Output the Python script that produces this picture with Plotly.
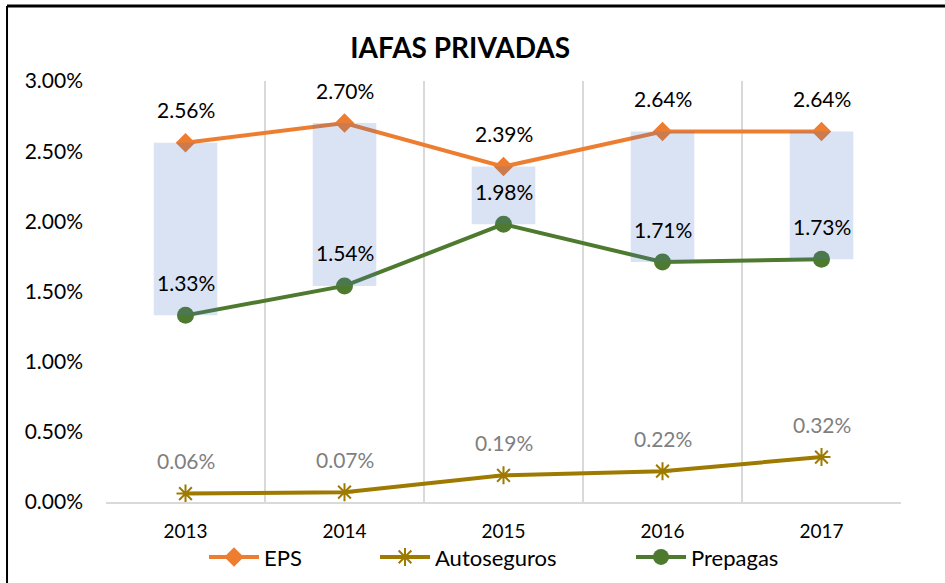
import plotly.graph_objects as go

years = ["2013", "2014", "2015", "2016", "2017"]
eps = [2.56, 2.70, 2.39, 2.64, 2.64]
autoseguros = [0.06, 0.07, 0.19, 0.22, 0.32]
prepagas = [1.33, 1.54, 1.98, 1.71, 1.73]
y_ticks = [0, 0.5, 1.0, 1.5, 2.0, 2.5, 3.0]
y_tick_labels = ["0.00%", "0.50%", "1.00%", "1.50%", "2.00%", "2.50%", "3.00%"]

FONT = "Lato"
C_EPS = "#ED7D31"
C_AUTO = "#9E7A00"
C_PRE = "#4E7A30"

fig = go.Figure()

fig.add_trace(go.Scatter(
    x=years, y=eps, name="EPS", mode="lines+markers",
    line=dict(color=C_EPS, width=4),
    marker=dict(symbol="diamond", size=15, color=C_EPS),
    legend="legend",
))
fig.add_trace(go.Scatter(
    x=years, y=autoseguros, name="Autoseguros", mode="lines+markers",
    line=dict(color=C_AUTO, width=4),
    marker=dict(symbol="asterisk-open", size=15, line=dict(color=C_AUTO, width=2)),
    legend="legend2",
))
fig.add_trace(go.Scatter(
    x=years, y=prepagas, name="Prepagas", mode="lines+markers",
    line=dict(color=C_PRE, width=4),
    marker=dict(symbol="circle", size=17, color=C_PRE),
    legend="legend3",
))

# up-down bars (drawn on top, semi-transparent)
fig.add_trace(go.Bar(
    x=years, y=[e - p for e, p in zip(eps, prepagas)], base=prepagas,
    marker=dict(color="rgba(68,114,196,0.2)", line=dict(width=0)),
    width=0.4, showlegend=False, hoverinfo="skip",
    xaxis="x2", yaxis="y",
))

annotations = []
for series, color in ((eps, "#000000"), (prepagas, "#000000"), (autoseguros, "#7F7F7F")):
    for i, v in enumerate(series):
        annotations.append(dict(
            x=i, y=v, xref="x", yref="y", text=f"{v:.2f}%", showarrow=False,
            yshift=33, font=dict(family=FONT, size=21, color=color),
        ))


def px_x(px):
    return (px - 106) / 795.0


legend_common = dict(
    orientation="h", yanchor="middle", y=-0.131, xanchor="left",
    font=dict(family=FONT, size=22, color="#000000"),
    bgcolor="rgba(0,0,0,0)", itemwidth=50,
)

fig.update_layout(
    width=945, height=583,
    paper_bgcolor="white", plot_bgcolor="white",
    margin=dict(l=106, r=44, t=81, b=81, autoexpand=False),
    title=dict(text="<b>IAFAS PRIVADAS</b>", x=0.487, xanchor="center", y=0.917, yanchor="middle",
               font=dict(family=FONT, size=28, color="#000000")),
    xaxis=dict(
        type="category", categoryorder="array", categoryarray=years,
        range=[-0.5, 4.5], tickson="boundaries", ticks="",
        showgrid=True, gridcolor="#D9D9D9", gridwidth=1.5,
        showline=True, linecolor="#D9D9D9", linewidth=1.5,
        tickfont=dict(family=FONT, size=19, color="#000000"),
        ticklabelstandoff=11,
    ),
    xaxis2=dict(
        type="category", categoryorder="array", categoryarray=years,
        range=[-0.5, 4.5], overlaying="x", visible=False,
    ),
    yaxis=dict(
        range=[0, 3.0], tickvals=y_ticks, ticktext=y_tick_labels,
        showgrid=False, zeroline=False, showline=False, ticks="",
        tickfont=dict(family=FONT, size=21, color="#000000"),
        ticklabelstandoff=22,
    ),
    legend=dict(legend_common, x=px_x(204)),
    legend2=dict(legend_common, x=px_x(375)),
    legend3=dict(legend_common, x=px_x(631)),
    annotations=annotations,
    shapes=[
        dict(type="line", xref="paper", yref="paper", x0=-0.1245, x1=1.2, y0=1.178, y1=1.178,
             line=dict(color="#000000", width=3)),
        dict(type="line", xref="paper", yref="paper", x0=-0.1245, x1=-0.1245, y0=1.178, y1=-0.4,
             line=dict(color="#000000", width=2)),
    ],
    showlegend=True,
)

fig.write_html("out.html", config={"displayModeBar": False},
               post_script="document.body.style.margin='0';document.body.style.padding='0';")
